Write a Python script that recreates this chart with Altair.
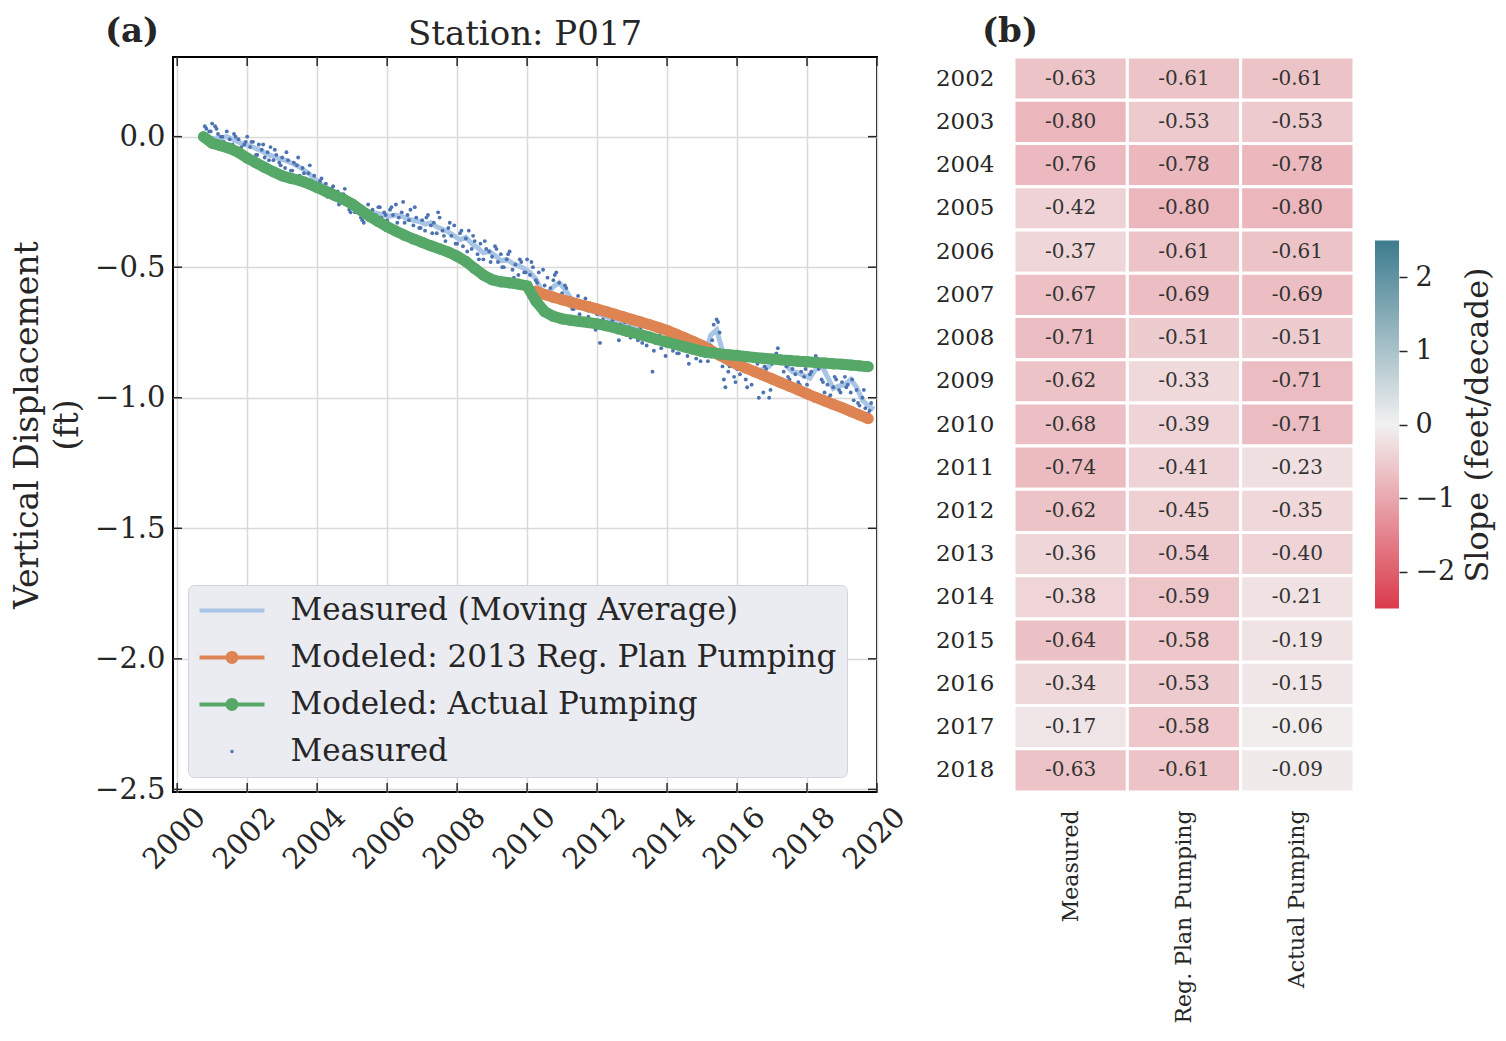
import altair as alt
import pandas as pd

# ---------------- panel (a) data ----------------
ACTUAL_START, ACTUAL_STEP = 2000.75, 0.25
actual_pumping = [
    0.000,
    -0.025, -0.035, -0.045, -0.060,
    -0.082, -0.100, -0.118, -0.135,
    -0.150, -0.160, -0.168, -0.180,
    -0.195, -0.210, -0.225, -0.240,
    -0.258, -0.282, -0.305, -0.325,
    -0.345, -0.362, -0.378, -0.392,
    -0.405, -0.418, -0.430, -0.442,
    -0.458, -0.478, -0.505, -0.530,
    -0.548, -0.556, -0.560, -0.565,
    -0.572, -0.630, -0.670, -0.688,
    -0.698, -0.703, -0.708, -0.712,
    -0.717, -0.724, -0.732, -0.741,
    -0.750, -0.759, -0.768, -0.778,
    -0.787, -0.796, -0.805, -0.814,
    -0.823, -0.828, -0.832, -0.835,
    -0.838, -0.842, -0.846, -0.849,
    -0.852, -0.855, -0.857, -0.860,
    -0.862, -0.865, -0.867, -0.870,
    -0.872, -0.875, -0.878, -0.881,
]

REG_START, REG_STEP = 2010.25, 0.25
reg_plan = [
    -0.592, -0.605, -0.615,
    -0.625, -0.634, -0.643, -0.651,
    -0.660, -0.670, -0.680, -0.690,
    -0.700, -0.710, -0.720, -0.731,
    -0.742, -0.756, -0.770, -0.785,
    -0.800, -0.818, -0.837, -0.855,
    -0.872, -0.886, -0.900, -0.914,
    -0.928, -0.942, -0.956, -0.970,
    -0.985, -0.999, -1.012, -1.025,
    -1.038, -1.052, -1.066, -1.080,
]

MA_START, MA_STEP = 2000.75, 1 / 6
moving_avg = [
    0.000, -0.005,
    -0.008, -0.005, 0.000, -0.010, -0.020, -0.030,
    -0.035, -0.045, -0.055, -0.068, -0.075, -0.085,
    -0.090, -0.100, -0.110, -0.125, -0.140, -0.160,
    -0.180, -0.195, -0.205, -0.220, -0.235, -0.245,
    -0.260, -0.275, -0.285, -0.290, -0.295, -0.300,
    -0.305, -0.300, -0.305, -0.315, -0.320, -0.325,
    -0.335, -0.330, -0.345, -0.355, -0.365, -0.380,
    -0.395, -0.385, -0.410, -0.425, -0.445, -0.440,
    -0.455, -0.475, -0.470, -0.485, -0.495, -0.505,
    -0.520, -0.545, -0.590, -0.600, -0.575, -0.560,
    -0.585, -0.620, -0.640, -0.655, -0.665, -0.670,
    -0.680, -0.690, -0.700, -0.705, -0.715, -0.725,
    -0.735, -0.745, -0.755, -0.765, -0.770, -0.780,
    -0.790, -0.795, -0.805, -0.810, -0.820, -0.830,
    -0.835, -0.760, -0.740, -0.820, -0.870, -0.880,
    -0.885, -0.890, -0.895, -0.900, -0.890, -0.880,
    -0.850, -0.845, -0.880, -0.900, -0.905, -0.915,
    -0.925, -0.890, -0.875, -0.920, -0.965, -0.955,
    -0.950, -0.930, -0.960, -1.010, -1.030, -1.045,
]

MEAS_START, MEAS_STEP = 2000.75, 1 / 12
measured = [
    0.01, 0.03, 0.02,
    0.05, 0.04, 0.01, 0.00, -0.02, 0.02, -0.01, -0.03, 0.00, -0.01, -0.04, -0.03,
    0.00, -0.04, -0.02, -0.07, -0.03, -0.05, -0.08, -0.06, -0.04, -0.09, -0.07, -0.10,
    -0.08, -0.12, -0.09, -0.13, -0.10, -0.11, -0.15, -0.12, -0.16, -0.14, -0.17, -0.15,
    -0.19, -0.17, -0.21, -0.18, -0.22, -0.20, -0.24, -0.21, -0.25, -0.22, -0.26, -0.28,
    -0.25, -0.29, -0.27, -0.31, -0.33, -0.30, -0.32, -0.28, -0.30, -0.27, -0.31, -0.29,
    -0.32, -0.28, -0.30, -0.26, -0.31, -0.29, -0.33, -0.30, -0.28, -0.34, -0.31, -0.35,
    -0.32, -0.36, -0.30, -0.34, -0.33, -0.37, -0.31, -0.36, -0.40, -0.35, -0.38, -0.34,
    -0.41, -0.37, -0.42, -0.39, -0.36, -0.43, -0.40, -0.45, -0.41, -0.47, -0.43, -0.44,
    -0.46, -0.42, -0.48, -0.45, -0.50, -0.47, -0.44, -0.51, -0.49, -0.53, -0.48, -0.52,
    -0.47, -0.53, -0.50, -0.55, -0.52, -0.60, -0.57, -0.54, -0.58, -0.55, -0.52, -0.56,
    -0.60, -0.57, -0.63, -0.62, -0.66, -0.64, -0.68, -0.65, -0.62, -0.69, -0.66, -0.72,
    -0.68, -0.79, -0.70, -0.67, -0.73, -0.71, -0.69, -0.75, -0.72, -0.74, -0.76, -0.73,
    -0.71, -0.75, -0.78, -0.73, -0.77, -0.80, -0.76, -0.90, -0.79, -0.77, -0.81, -0.78,
    -0.80, -0.77, -0.82, -0.79, -0.83, -0.80, -0.78, -0.84, -0.82, -0.81, -0.85, -0.83,
    -0.82, -0.84, -0.86, -0.80, -0.72, -0.70, -0.75, -0.88, -0.96, -0.90, -0.87, -0.92,
    -0.89, -0.91, -0.86, -0.93, -0.88, -0.95, -0.90, -0.87, -0.92, -0.98, -0.89, -1.00,
    -0.87, -0.84, -0.81, -0.85, -0.90, -0.88, -0.93, -0.89, -0.91, -0.94, -0.90, -0.92,
    -0.95, -0.91, -0.86, -0.84, -0.89, -0.93, -0.98, -0.95, -0.99, -0.96, -0.93, -0.97,
    -0.94, -0.92, -0.95, -0.98, -1.01, -0.97, -1.03, -1.00, -1.04, -1.06, -1.02,
]

MEAS2_START, MEAS2_STEP = 2000.79, 1 / 6
measured_extra = [
    0.04, 0.02,
    0.03, 0.00, -0.03, 0.01, -0.05, -0.02,
    -0.02, -0.07, -0.03, -0.09, -0.05, -0.11,
    -0.06, -0.13, -0.08, -0.14, -0.11, -0.18,
    -0.16, -0.23, -0.19, -0.26, -0.20, -0.29,
    -0.27, -0.32, -0.26, -0.33, -0.27, -0.30,
    -0.27, -0.33, -0.25, -0.32, -0.27, -0.35,
    -0.31, -0.37, -0.29, -0.38, -0.33, -0.41,
    -0.36, -0.44, -0.38, -0.47, -0.40, -0.48,
    -0.43, -0.50, -0.45, -0.54, -0.47, -0.52,
    -0.48, -0.56, -0.51, -0.60, -0.53, -0.62,
    -0.58, -0.66, -0.61, -0.70, -0.64, -0.74,
    -0.67, -0.73, -0.70, -0.78, -0.71, -0.77,
    -0.74, -0.79, -0.73, -0.82, -0.76, -0.84,
    -0.77, -0.83, -0.79, -0.87, -0.80, -0.86,
    -0.83, -0.78, -0.71, -0.93, -0.88, -0.94,
    -0.87, -0.96, -0.90, -1.00, -0.88, -0.97,
    -0.83, -0.86, -0.92, -0.87, -0.95, -0.89,
    -0.90, -0.85, -0.94, -1.00, -0.92, -0.98,
    -0.96, -0.93, -1.02, -0.97, -1.05,
]

x_ticks = [2000, 2002, 2004, 2006, 2008, 2010, 2012, 2014, 2016, 2018, 2020]
y_ticks = [-2.5, -2.0, -1.5, -1.0, -0.5, 0.0]

legend_names = [
    "Measured (Moving Average)",
    "Modeled: 2013 Reg. Plan Pumping",
    "Modeled: Actual Pumping",
    "Measured",
]
C_MA, C_REG, C_ACT, C_MEAS = "#a9c5e5", "#dd8452", "#55a868", "#4c72b0"
legend_colors = [C_MA, C_REG, C_ACT, C_MEAS]
LINE_ONLY = "M-2.32,-0.14H2.32V0.14H-2.32Z"
LINE_DOT = ("M-2.32,-0.14H2.32V0.14H-2.32Z "
            "M0.46,0A0.46,0.46,0,1,1,-0.46,0A0.46,0.46,0,1,1,0.46,0Z")
SMALL_DOT = "M0.12,0A0.12,0.12,0,1,1,-0.12,0A0.12,0.12,0,1,1,0.12,0Z"
legend_shapes = [LINE_ONLY, LINE_DOT, LINE_DOT, SMALL_DOT]

# ---------------- panel (b) data ----------------
years = [str(y) for y in range(2002, 2019)]
heat_cols = ["Measured", "Reg. Plan Pumping", "Actual Pumping"]
slope_measured = [-0.63, -0.80, -0.76, -0.42, -0.37, -0.67, -0.71, -0.62, -0.68,
                  -0.74, -0.62, -0.36, -0.38, -0.64, -0.34, -0.17, -0.63]
slope_reg = [-0.61, -0.53, -0.78, -0.80, -0.61, -0.69, -0.51, -0.33, -0.39,
             -0.41, -0.45, -0.54, -0.59, -0.58, -0.53, -0.58, -0.61]
slope_actual = [-0.61, -0.53, -0.78, -0.80, -0.61, -0.69, -0.51, -0.71, -0.71,
                -0.23, -0.35, -0.40, -0.21, -0.19, -0.15, -0.06, -0.09]
cbar_ticks = [-2, -1, 0, 1, 2]
cbar_range = [-2.5, 2.5]
CMAP = ["#db3a4b", "#f2f1f1", "#3c7c8e"]

TXT = "#262626"
FONT = "DejaVu Serif"
MINUS = "replace(datum.label, '-', '\u2212')"


def series(start, step, vals):
    return pd.DataFrame({"t": [round(start + i * step, 4) for i in range(len(vals))], "v": vals})


df_act = series(ACTUAL_START, ACTUAL_STEP, actual_pumping)
df_reg = series(REG_START, REG_STEP, reg_plan)
df_ma = series(MA_START, MA_STEP, moving_avg)
df_meas = pd.concat([series(MEAS_START, MEAS_STEP, measured),
                     series(MEAS2_START, MEAS2_STEP, measured_extra)], ignore_index=True)

W_A, H = 704, 735
xs = alt.Scale(domain=[1999.88, 2020.0], nice=False, zero=False)
ys = alt.Scale(domain=[-2.51, 0.305], nice=False, zero=False)

x_axis = alt.Axis(values=x_ticks, format="d", labelAngle=315, labelAlign="right",
                  labelBaseline="middle", labelPadding=20, labelOffset=23,
                  labelFontSize=29, labelOverlap=False, ticks=False, domain=False, grid=True,
                  gridColor="#d9d9d9", gridWidth=1.5, title=None)
y_axis = alt.Axis(values=y_ticks, format=".1f", labelExpr=MINUS, labelPadding=8,
                  labelFontSize=29, labelOverlap=False, ticks=False, domain=False, grid=True,
                  gridColor="#d9d9d9", gridWidth=1.5,
                  title=["Vertical Displacement", "(ft)"], titleFontSize=33,
                  titleFontWeight="normal", titleLineHeight=40, titlePadding=10)

X = alt.X("t:Q", scale=xs, axis=x_axis)
Y = alt.Y("v:Q", scale=ys, axis=y_axis)

ma_line = alt.Chart(df_ma).mark_line(color=C_MA, strokeWidth=5).encode(x=X, y=Y)
meas_pts = alt.Chart(df_meas).mark_circle(color=C_MEAS, size=15, opacity=1).encode(x=X, y=Y)
reg_line = alt.Chart(df_reg).mark_line(color=C_REG, strokeWidth=11).encode(x=X, y=Y)
reg_pts = alt.Chart(df_reg).mark_circle(color=C_REG, size=125, opacity=1).encode(x=X, y=Y)
act_line = alt.Chart(df_act).mark_line(color=C_ACT, strokeWidth=11).encode(x=X, y=Y)
act_pts = alt.Chart(df_act).mark_circle(color=C_ACT, size=125, opacity=1).encode(x=X, y=Y)

# inward ticks on the frame
df_xt = pd.DataFrame({"t": x_ticks})
df_yt = pd.DataFrame({"v": y_ticks})
TL = 9
tick_style = dict(color=TXT, strokeWidth=1.5)
xt_top = alt.Chart(df_xt).mark_rule(**tick_style).encode(x=alt.X("t:Q", scale=xs), y=alt.value(0), y2=alt.value(TL))
xt_bot = alt.Chart(df_xt).mark_rule(**tick_style).encode(x=alt.X("t:Q", scale=xs), y=alt.value(H - TL), y2=alt.value(H))
yt_left = alt.Chart(df_yt).mark_rule(**tick_style).encode(y=alt.Y("v:Q", scale=ys), x=alt.value(0), x2=alt.value(TL))
yt_right = alt.Chart(df_yt).mark_rule(**tick_style).encode(y=alt.Y("v:Q", scale=ys), x=alt.value(W_A - TL), x2=alt.value(W_A))

leg = alt.Legend(orient="none", legendX=15, legendY=528, padding=10, title=None,
                 fillColor="#ebebf2", strokeColor="#d2d2dc", cornerRadius=6,
                 symbolSize=784, symbolStrokeWidth=0, symbolOffset=18.5, symbolOpacity=1,
                 labelOffset=43, labelFontSize=31, labelFont=FONT, labelColor=TXT,
                 labelLimit=1000, rowPadding=15)
df_leg = pd.DataFrame({"series": legend_names})
legend_layer = alt.Chart(df_leg).mark_point(filled=True, opacity=1).encode(
    color=alt.Color("series:N", scale=alt.Scale(domain=legend_names, range=legend_colors), legend=leg),
    shape=alt.Shape("series:N", scale=alt.Scale(domain=legend_names, range=legend_shapes), legend=leg),
).transform_filter("false")

tag_a = alt.Chart(pd.DataFrame({"s": ["(a)"]})).mark_text(
    font=FONT, fontSize=34, fontWeight="bold", color=TXT, align="center", baseline="middle"
).encode(text="s:N", x=alt.value(-41), y=alt.value(-25))
title_a = alt.Chart(pd.DataFrame({"s": ["Station: P017"]})).mark_text(
    font=FONT, fontSize=34, color=TXT, align="center", baseline="alphabetic"
).encode(text="s:N", x=alt.value(W_A / 2), y=alt.value(-12))

panel_a = alt.layer(
    ma_line, meas_pts, reg_line, reg_pts, act_line, act_pts,
    xt_top, xt_bot, yt_left, yt_right, legend_layer, tag_a, title_a,
).properties(
    width=W_A, height=H,
    view=alt.ViewBackground(stroke="black", strokeWidth=2),
)

# ---------------- heatmap ----------------
heat_rows = []
for name, vals in zip(heat_cols, [slope_measured, slope_reg, slope_actual]):
    for yr, v in zip(years, vals):
        heat_rows.append({"col": name, "year": yr, "val": v, "lab": f"{v:.2f}"})
df_heat = pd.DataFrame(heat_rows)

color_scale = alt.Scale(domain=[-2.5, 0, 2.5], range=CMAP, interpolate="rgb")
hx = alt.X("col:N", sort=heat_cols, scale=alt.Scale(paddingInner=0, paddingOuter=0),
           axis=alt.Axis(orient="bottom", labelAngle=270, labelAlign="right", labelBaseline="middle",
                         labelPadding=18, labelFontSize=22, labelLimit=1000, ticks=False,
                         domain=False, title=None))
hy = alt.Y("year:O", sort=years, scale=alt.Scale(paddingInner=0, paddingOuter=0),
           axis=alt.Axis(labelPadding=20, labelFontSize=23, ticks=False, domain=False, title=None))
cells = alt.Chart(df_heat).mark_rect(stroke="white", strokeWidth=3).encode(
    x=hx, y=hy, color=alt.Color("val:Q", scale=color_scale, legend=None))
annot = alt.Chart(df_heat).mark_text(font=FONT, fontSize=20, color="#333333").encode(
    x=hx, y=hy, text="lab:N")
tag_b = alt.Chart(pd.DataFrame({"s": ["(b)"]})).mark_text(
    font=FONT, fontSize=34, fontWeight="bold", color=TXT, align="center", baseline="middle"
).encode(text="s:N", x=alt.value(-4), y=alt.value(-25))
heat = alt.layer(cells, annot, tag_b).properties(width=340, height=H)

# ---------------- colorbar ----------------
CB_H = 368
cb_half = (H / 2) / (CB_H / 5.0)
df_cb = pd.DataFrame({"lo": [cbar_range[0]], "hi": [cbar_range[1]]})
grad = {"gradient": "linear", "x1": 0, "x2": 0, "y1": 1, "y2": 0,
        "stops": [{"offset": 0, "color": CMAP[0]}, {"offset": 0.5, "color": CMAP[1]},
                  {"offset": 1, "color": CMAP[2]}]}
cbar = alt.Chart(df_cb).mark_rect(color=grad).encode(
    x=alt.value(0), x2=alt.value(24),
    y=alt.Y("lo:Q", scale=alt.Scale(domain=[-cb_half, cb_half], nice=False, zero=False),
            axis=alt.Axis(orient="right", values=cbar_ticks, format="d", labelExpr=MINUS,
                          tickSize=8, tickWidth=1.5, tickColor=TXT, domain=False, grid=False,
                          labelFontSize=27, labelPadding=8, title="Slope (feet/decade)",
                          titleFontSize=32, titleFontWeight="normal", titleAngle=270,
                          titleBaseline="top", titlePadding=8)),
    y2="hi:Q",
).properties(width=24, height=H)

right = alt.hconcat(heat, cbar, spacing=21, bounds="flush").resolve_scale(
    x="independent", y="independent", color="independent")

chart = alt.hconcat(panel_a, right, spacing=137, bounds="flush").resolve_scale(
    x="independent", y="independent", color="independent", shape="independent"
).configure(
    font=FONT, padding={"left": 2, "top": 6, "right": 4, "bottom": 0}
).configure_view(strokeWidth=0).configure_axis(
    labelColor=TXT, titleColor=TXT, labelFont=FONT, titleFont=FONT
)

chart.save("out.html", embed_options={"renderer": "svg", "actions": False})
